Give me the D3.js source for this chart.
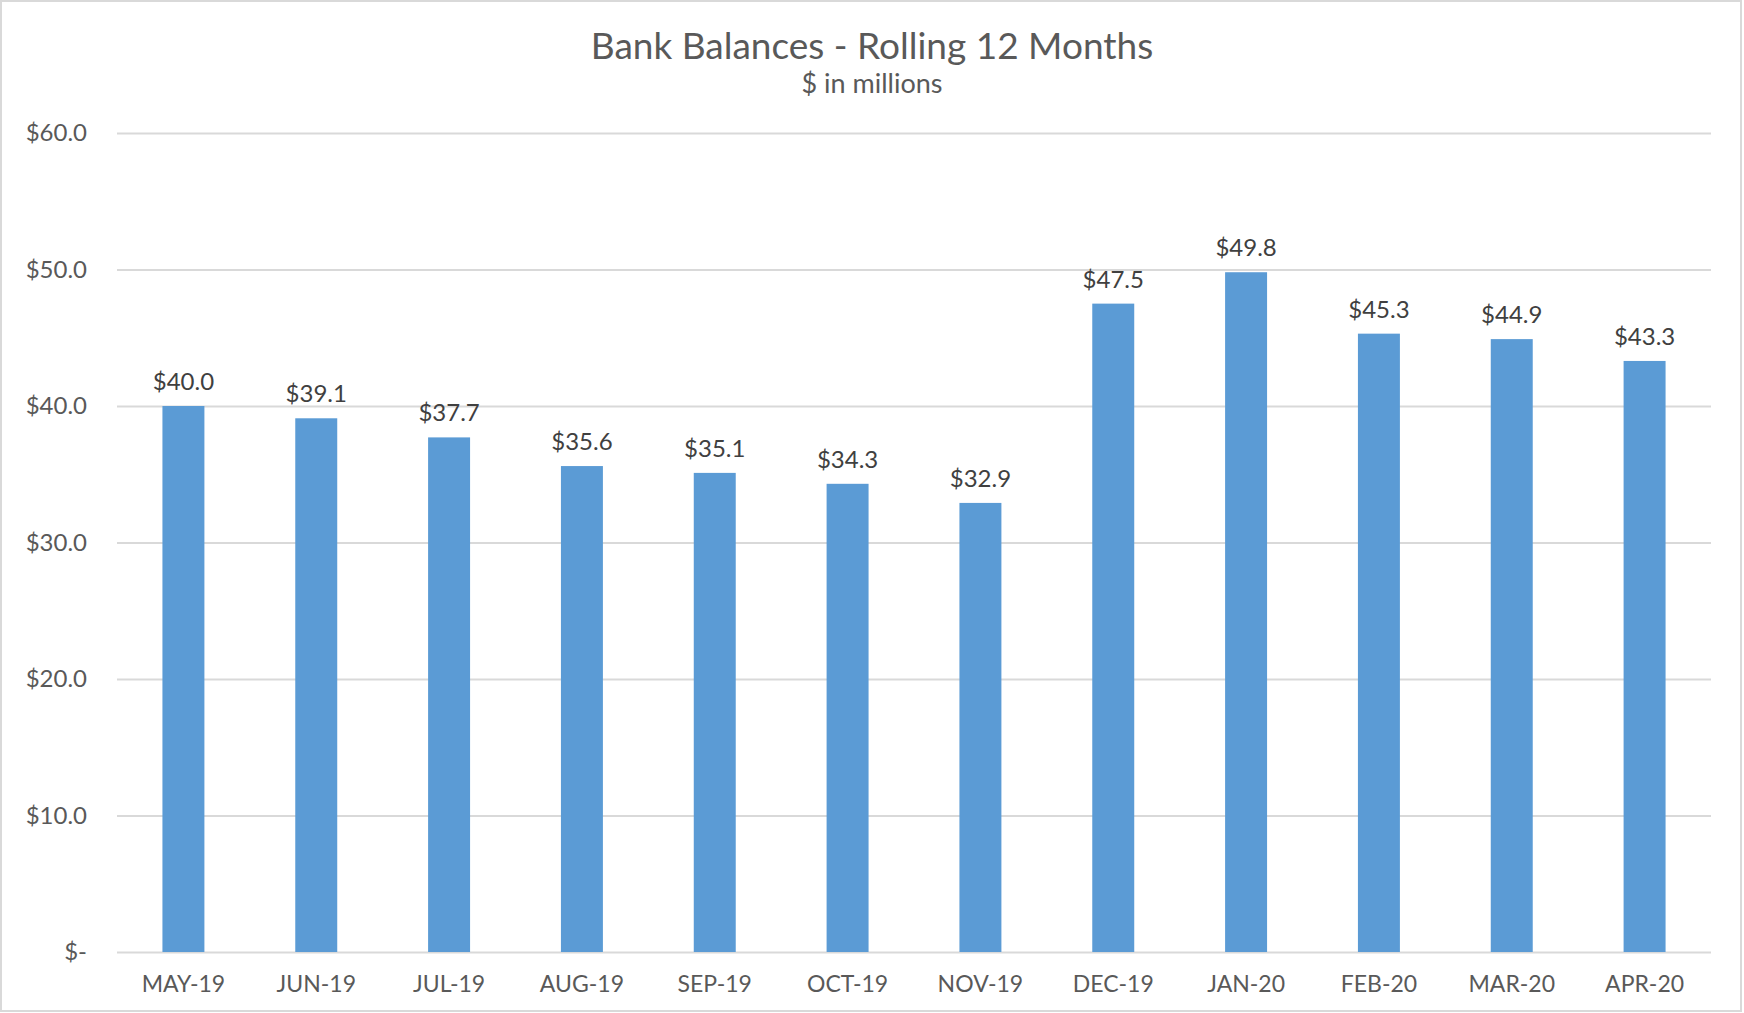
<!DOCTYPE html>
<html>
<head>
<meta charset="utf-8">
<script src="https://cdn.jsdelivr.net/npm/d3@7"></script>
<style>
  html, body { margin: 0; padding: 0; background: #fff; }
  svg { display: block; font-family: Lato, "Open Sans", sans-serif; }
</style>
</head>
<body>
<div id="chart"></div>
<script>
// --------------------------------------
//  Data
// --------------------------------------

const months = ["MAY-19", "JUN-19", "JUL-19", "AUG-19", "SEP-19", "OCT-19",
                "NOV-19", "DEC-19", "JAN-20", "FEB-20", "MAR-20", "APR-20"];
const balances = [40.0, 39.1, 37.7, 35.6, 35.1, 34.3, 32.9, 47.5, 49.8, 45.3, 44.9, 43.3];
const yTicks = [0, 10, 20, 30, 40, 50, 60];

const title = "Bank Balances - Rolling 12 Months";
const subtitle = "$ in millions";

// --------------------------------------
//  Canvas
// --------------------------------------

const width = 1744, height = 1013;
const margin = {top: 133, right: 33, bottom: 61, left: 117};
const innerwidth = width - margin.left - margin.right;
const innerheight = height - margin.top - margin.bottom;

const svg = d3.select("#chart")
  .append("svg")
    .attr("width", width)
    .attr("height", height)
    .attr("viewBox", [0, 0, width, height]);

// outer chart border
svg.append("rect")
  .attr("x", 1).attr("y", 1)
  .attr("width", width - 4).attr("height", height - 3)
  .attr("fill", "none")
  .attr("stroke", "#D9D9D9")
  .attr("stroke-width", 2);

const inner = svg.append("g")
  .attr("transform", `translate(${margin.left}, ${margin.top})`);

// --------------------------------------
//  Scales
// --------------------------------------

const x = d3.scaleBand()
  .domain(months)
  .range([0, innerwidth])
  .paddingInner(0.684)
  .paddingOuter(0.342);

const y = d3.scaleLinear()
  .domain([0, 60])
  .range([innerheight, 0]);

// --------------------------------------
//  Gridlines and axes
// --------------------------------------

const yAxis = inner.append("g")
  .call(d3.axisLeft(y)
    .tickValues(yTicks)
    .tickSize(-innerwidth)
    .tickPadding(30)
    .tickFormat(d => d === 0 ? "$-" : "$" + d3.format(".1f")(d)));

yAxis.attr("font-family", null).attr("font-size", null);
yAxis.select(".domain").remove();
yAxis.selectAll(".tick line")
  .attr("stroke", "#D9D9D9")
  .attr("stroke-width", 2);
yAxis.selectAll(".tick text")
  .attr("fill", "#595959")
  .style("font-size", "24px");

const xAxis = inner.append("g")
  .attr("transform", `translate(0, ${innerheight})`)
  .call(d3.axisBottom(x).tickSize(0));

xAxis.attr("font-family", null).attr("font-size", null);
xAxis.select(".domain").remove();
xAxis.selectAll(".tick text")
  .attr("y", 40)
  .attr("dy", null)
  .attr("fill", "#595959")
  .style("font-size", "23px");

// --------------------------------------
//  Bars and labels
// --------------------------------------

inner.selectAll(".bar")
  .data(balances)
  .join("rect")
    .attr("class", "bar")
    .attr("x", (d, i) => x(months[i]))
    .attr("y", d => y(d))
    .attr("width", x.bandwidth())
    .attr("height", d => y(0) - y(d))
    .attr("fill", "#5B9BD5");

inner.selectAll(".label")
  .data(balances)
  .join("text")
    .attr("class", "label")
    .attr("x", (d, i) => x(months[i]) + x.bandwidth() / 2)
    .attr("y", d => y(d) - 16)
    .attr("text-anchor", "middle")
    .attr("fill", "#404040")
    .style("font-size", "24px")
    .text(d => "$" + d3.format(".1f")(d));

// --------------------------------------
//  Titles
// --------------------------------------

svg.append("text")
  .attr("x", width / 2)
  .attr("y", 59)
  .attr("text-anchor", "middle")
  .attr("fill", "#595959")
  .style("font-size", "37px")
  .text(title);

svg.append("text")
  .attr("x", width / 2)
  .attr("y", 93)
  .attr("text-anchor", "middle")
  .attr("fill", "#595959")
  .style("font-size", "27px")
  .text(subtitle);
</script>
</body>
</html>
